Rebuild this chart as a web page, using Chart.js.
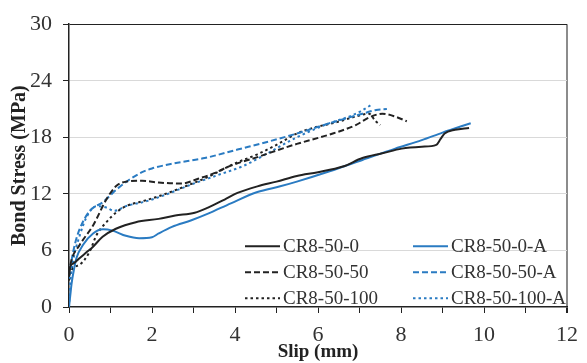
<!DOCTYPE html>
<html>
<head>
<meta charset="utf-8">
<script src="https://cdn.jsdelivr.net/npm/chart.js@4"></script>
<style>
  html, body { margin: 0; padding: 0; background: #fff; }
  #wrap { width: 587px; height: 363px; }
</style>
</head>
<body>
<div id="wrap"><canvas id="bondChart" width="587" height="363"></canvas></div>
<script>
// slip (mm) / bond stress (MPa)
let seriesNames = ['CR8-50-0', 'CR8-50-0-A', 'CR8-50-50', 'CR8-50-50-A', 'CR8-50-100', 'CR8-50-100-A'];

let slip0 = [0, 0.02, 0.1, 0.26, 0.42, 0.58, 0.81, 1.13, 1.61, 2.16, 2.56, 3.03, 3.35, 3.75, 4.06, 4.54, 5.0, 5.49, 6.0, 6.6, 7.07, 7.55, 8.02, 8.5, 8.85, 8.95, 9.05, 9.3, 9.64];
let stress0 = [3.2, 4.2, 4.6, 5.2, 5.8, 6.4, 7.45, 8.3, 9.0, 9.35, 9.7, 10.0, 10.55, 11.4, 12.1, 12.8, 13.3, 13.9, 14.3, 14.9, 15.8, 16.3, 16.8, 17.0, 17.2, 17.8, 18.4, 18.8, 19.0];

let slip0A = [0, 0.03, 0.06, 0.12, 0.18, 0.34, 0.58, 0.82, 1.05, 1.37, 1.69, 2.0, 2.16, 2.48, 2.95, 3.35, 3.9, 4.54, 5.09, 5.49, 6.28, 7.07, 7.86, 8.5, 9.0, 9.68];
let stress0A = [0, 1.2, 2.4, 4.0, 5.2, 6.6, 7.8, 8.24, 8.1, 7.55, 7.3, 7.4, 7.8, 8.5, 9.2, 9.9, 11.0, 12.2, 12.8, 13.3, 14.4, 15.6, 16.8, 17.7, 18.5, 19.5];

let slip50 = [0, 0.05, 0.26, 0.58, 0.9, 1.13, 1.37, 1.76, 2.16, 2.72, 3.11, 3.5, 3.9, 4.54, 5.0, 5.49, 6.28, 6.91, 7.23, 7.55, 7.86, 8.14];
let stress50 = [3.5, 4.8, 6.6, 8.65, 11.4, 12.8, 13.3, 13.4, 13.2, 13.1, 13.6, 14.2, 15.0, 15.9, 16.6, 17.3, 18.3, 19.3, 20.1, 20.5, 20.2, 19.7];

let slip50A = [0, 0.03, 0.06, 0.15, 0.26, 0.5, 0.81, 1.13, 1.45, 1.76, 2.0, 2.48, 3.27, 4.06, 4.85, 5.49, 6.28, 7.07, 7.4, 7.66];
let stress50A = [3.0, 4.0, 4.9, 6.8, 8.3, 10.2, 11.1, 12.4, 13.5, 14.3, 14.7, 15.2, 15.8, 16.7, 17.6, 18.4, 19.5, 20.5, 20.9, 21.0];

let slip100 = [0, 0.02, 0.26, 0.5, 0.66, 0.9, 1.13, 1.37, 1.76, 2.16, 2.8, 3.35, 3.98, 4.54, 5.0, 5.49, 5.88, 6.44, 6.91, 7.23, 7.39, 7.5];
let stress100 = [2.8, 3.5, 4.5, 5.9, 7.6, 9.0, 10.0, 10.7, 11.2, 11.75, 12.8, 13.8, 15.2, 16.2, 17.2, 18.4, 19.0, 19.6, 20.2, 20.5, 19.7, 19.3];

let slip100A = [0, 0.03, 0.1, 0.26, 0.42, 0.66, 0.9, 1.09, 1.37, 1.85, 2.32, 2.95, 3.59, 4.22, 4.7, 5.49, 6.28, 6.75, 7.0, 7.27];
let stress100A = [0, 2.5, 4.9, 7.6, 9.5, 10.7, 10.55, 10.2, 10.7, 11.2, 11.9, 13.0, 14.0, 15.0, 16.1, 18.0, 19.5, 20.2, 20.7, 21.4];

let xTicks = [0, 2, 4, 6, 8, 10, 12];
let yTicks = [0, 6, 12, 18, 24, 30];

let black = '#222222';
let blue = '#2a7bc2';

function points(xs, ys) {
    let out = [];
    for (let i = 0; i < xs.length; i++) {
        out.push({x: xs[i], y: ys[i]});
    }
    return out;
}

function makeSet(label, xs, ys, color, dash) {
    return {
        label: label,
        data: points(xs, ys),
        borderColor: color,
        backgroundColor: color,
        borderWidth: 2,
        borderDash: dash,
        pointRadius: 0,
        fill: false,
        cubicInterpolationMode: 'monotone'
    };
}

// legend drawn inside the plot, two columns by three rows
let insideLegend = {
    id: 'insideLegend',
    afterDraw(chart) {
        let ctx = chart.ctx;
        let area = chart.chartArea;
        let colX = [area.left + 176, area.left + 344];
        let rowY = [area.top + 222, area.top + 248, area.top + 274];
        ctx.save();
        ctx.font = '19px "Liberation Serif"';
        ctx.textBaseline = 'middle';
        ctx.fillStyle = '#333';
        chart.data.datasets.forEach(function(ds, i) {
            let x = colX[i % 2];
            let y = rowY[Math.floor(i / 2)];
            ctx.beginPath();
            ctx.strokeStyle = ds.borderColor;
            ctx.lineWidth = ds.borderWidth;
            ctx.setLineDash(ds.borderDash);
            ctx.moveTo(x, y);
            ctx.lineTo(x + 35, y);
            ctx.stroke();
            ctx.setLineDash([]);
            ctx.fillText(ds.label, x + 38, y + 1);
        });
        ctx.restore();
    }
};

let bondChart = document.querySelector('#bondChart').getContext('2d');

let bond_Chart = new Chart(bondChart, {
    type: 'line',
    data: {
        datasets: [
            makeSet(seriesNames[0], slip0, stress0, black, []),
            makeSet(seriesNames[1], slip0A, stress0A, blue, []),
            makeSet(seriesNames[2], slip50, stress50, black, [6, 3]),
            makeSet(seriesNames[3], slip50A, stress50A, blue, [6, 3]),
            makeSet(seriesNames[4], slip100, stress100, black, [2.5, 3]),
            makeSet(seriesNames[5], slip100A, stress100A, blue, [2.5, 3])
        ]
    },
    options: {
        responsive: false,
        animation: false,
        devicePixelRatio: 1,
        layout: { padding: { top: 17, right: 13, left: 0, bottom: 0 } },
        plugins: {
            legend: { display: false },
            tooltip: { enabled: false }
        },
        scales: {
            x: {
                type: 'linear',
                min: 0,
                max: 12,
                afterFit: function(scale) { scale.height = 56; },
                ticks: {
                    stepSize: 1,
                    autoSkip: false,
                    maxRotation: 0,
                    padding: 9,
                    color: '#333',
                    font: { family: 'Liberation Serif', size: 22 },
                    callback: function(v) { return xTicks.includes(v) ? v : ''; }
                },
                grid: {
                    color: function(c) { return c.tick && c.tick.value === 12 ? '#8c8c8c' : 'rgba(0,0,0,0)'; },
                    lineWidth: function(c) { return c.tick && c.tick.value === 12 ? 2 : 1; },
                    tickColor: black,
                    tickLength: 6
                },
                border: { color: black, width: 1.5 },
                title: {
                    display: true,
                    text: 'Slip (mm)',
                    color: '#222',
                    font: { family: 'Liberation Serif', size: 19, weight: 'bold' },
                    padding: { top: 0, bottom: 0 }
                }
            },
            y: {
                min: 0,
                max: 30,
                afterFit: function(scale) { scale.width = 69; },
                ticks: {
                    stepSize: 3,
                    padding: 11,
                    color: '#333',
                    font: { family: 'Liberation Serif', size: 22 },
                    callback: function(v) { return yTicks.includes(v) ? v : ''; }
                },
                grid: {
                    color: function(c) {
                        if (!c.tick) return 'rgba(0,0,0,0)';
                        let v = c.tick.value;
                        if (v === 30) return black;
                        if (v > 0 && v % 6 === 0) return '#d9d9d9';
                        return 'rgba(0,0,0,0)';
                    },
                    tickColor: black,
                    tickLength: 6
                },
                border: { color: black, width: 1.5 },
                title: {
                    display: true,
                    text: 'Bond Stress (MPa)',
                    color: '#222',
                    font: { family: 'Liberation Serif', size: 20, weight: 'bold' },
                    padding: { top: 8, bottom: 0 }
                }
            }
        }
    },
    plugins: [insideLegend]
});
</script>
</body>
</html>
